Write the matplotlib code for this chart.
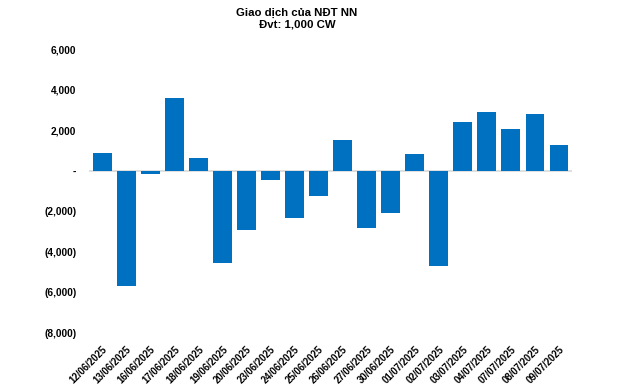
import matplotlib
matplotlib.use("Agg")
import matplotlib.pyplot as plt
from matplotlib.ticker import FuncFormatter

plt.rcParams['font.family'] = ['Liberation Sans', 'DejaVu Sans']

dates = ["12/06/2025", "13/06/2025", "16/06/2025", "17/06/2025", "18/06/2025",
         "19/06/2025", "20/06/2025", "23/06/2025", "24/06/2025", "25/06/2025",
         "26/06/2025", "27/06/2025", "30/06/2025", "01/07/2025", "02/07/2025",
         "03/07/2025", "04/07/2025", "07/07/2025", "08/07/2025", "09/07/2025"]
values = [900, -5670, -180, 3610, 640,
          -4560, -2900, -430, -2350, -1260,
          1530, -2840, -2100, 840, -4710,
          2410, 2900, 2070, 2810, 1280]
yticks = [6000, 4000, 2000, 0, -2000, -4000, -6000, -8000]

fig = plt.figure(figsize=(6.4, 3.87), dpi=100)
ax = fig.add_axes([0.139, 0.1395, 0.755, 0.7335])

x = list(range(len(dates)))
ax.bar(x, values, width=0.78, color="#0070C0", zorder=2)
ax.axhline(0, color="#D9D9D9", linewidth=1.2, zorder=1)

ax.set_ylim(-8000, 6000)
ax.set_xlim(-0.55, len(dates) - 0.45)
ax.set_yticks(yticks)

def fmt(v, pos):
    if v == 0:
        return "-"
    if v < 0:
        return "({:,.0f})".format(-v)
    return "{:,.0f}".format(v)

ax.yaxis.set_major_formatter(FuncFormatter(fmt))
ax.set_xticks(x)
ax.set_xticklabels(dates, rotation=45, ha="right", rotation_mode="anchor",
                   fontsize=6.9, fontweight="bold")
for lab in ax.get_yticklabels():
    lab.set_fontweight("bold")
    lab.set_fontsize(7.3)

ax.tick_params(axis="both", length=0)
ax.tick_params(axis="y", pad=9)
ax.tick_params(axis="x", pad=8)
for s in ax.spines.values():
    s.set_visible(False)

fig.text(0.464, 0.967, "Giao dịch của NĐT NN", ha="center", va="center",
         fontsize=8.2, fontweight="bold")
fig.text(0.464, 0.936, "Đvt: 1,000 CW", ha="center", va="center",
         fontsize=8.2, fontweight="bold")

fig.savefig("out.png", dpi=100)
